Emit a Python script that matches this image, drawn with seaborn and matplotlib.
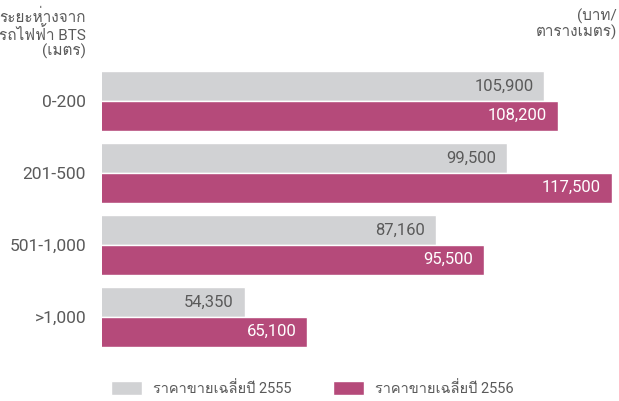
import pandas as pd
import matplotlib.pyplot as plt
import seaborn as sns
from matplotlib import font_manager
from matplotlib.ft2font import FT2Font

# data
distances = ['0-200', '201-500', '501-1,000', '>1,000']
price_2555 = [105900, 99500, 87160, 54350]
price_2556 = [108200, 117500, 95500, 65100]
series_names = ['ราคาขายเฉลี่ยปี 2555', 'ราคาขายเฉลี่ยปี 2556']
colors = ['#d1d2d4', '#b54a7a']

df = pd.DataFrame({
    'distance': distances * 2,
    'price': price_2555 + price_2556,
    'year': [series_names[0]] * 4 + [series_names[1]] * 4,
})

# find an installed family with Thai glyphs
thai_family = None
for f in font_manager.fontManager.ttflist:
    try:
        if FT2Font(f.fname).get_char_index(ord('ร')):
            thai_family = f.name
            break
    except Exception:
        pass

sns.set_theme(style='white')
families = ['Roboto'] + ([thai_family] if thai_family else []) + ['DejaVu Sans']
plt.rcParams['font.family'] = families
text_color = '#5a5a5a'

fig = plt.figure(figsize=(6.19, 4.01), dpi=100)
ax = fig.add_axes([102 / 619, 40.8 / 401, 517 / 619, 302.4 / 401])

sns.barplot(data=df, x='price', y='distance', hue='year', palette=colors,
            orient='h', width=0.82, gap=0, saturation=1, ax=ax, legend=True)

ax.set_xlim(29750, 118730)
ax.set_ylim(3.6, -0.6)
for s in ax.spines.values():
    s.set_visible(False)
ax.set_xticks([])
ax.set_xlabel('')
ax.set_ylabel('')
ax.tick_params(axis='y', length=0, pad=11.5, labelsize=12.5, labelcolor=text_color)

# value labels inside bar ends
for i, cont in enumerate(ax.containers):
    lc = text_color if i == 0 else 'white'
    for p in cont.patches:
        w = p.get_width()
        ax.annotate(f'{w:,.0f}', (w, p.get_y() + p.get_height() / 2),
                    xytext=(-11, 0), textcoords='offset pixels',
                    ha='right', va='center', fontsize=12, color=lc)

# legend, one entry at a time so each patch sits where the reference has it
handles, labels = ax.get_legend_handles_labels()
ax.get_legend().remove()
for h, lab, x0 in zip(handles, labels, [111, 333]):
    fig.legend([h], [lab], loc='center left', bbox_to_anchor=(x0 / 619, 12.3 / 401),
               frameon=False, fontsize=10.5, handlelength=2.1, handleheight=1.05,
               handletextpad=0.75, borderpad=0, borderaxespad=0,
               labelcolor=text_color)

fig.text(86 / 619, 1 - 9 / 401, 'ระยะห่างจาก\nรถไฟฟ้า BTS\n(เมตร)', ha='right', va='top',
         fontsize=11, color=text_color, linespacing=1.05)
fig.text(617 / 619, 1 - 9 / 401, '(บาท/\nตารางเมตร)', ha='right', va='top',
         fontsize=11, color=text_color, linespacing=1.05)

fig.savefig('out.png', dpi=100)
